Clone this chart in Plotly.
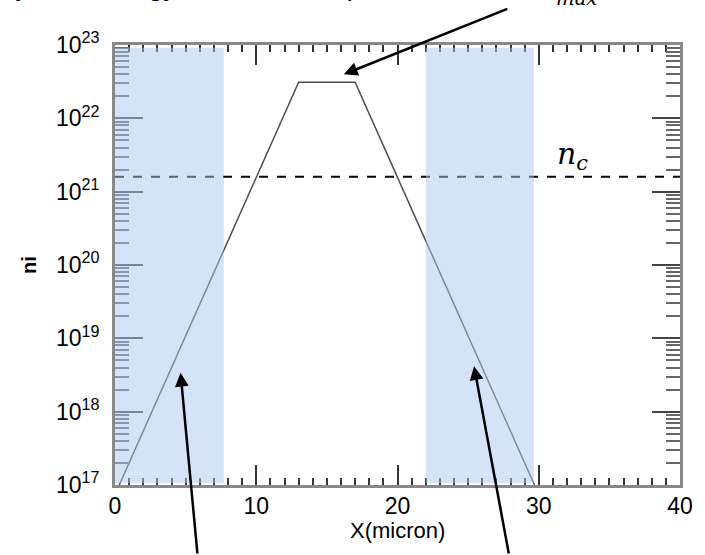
import plotly.graph_objects as go

# Ion density profile: exponential ramps up to a flat top, then down again
x_profile = [0.3, 13.0, 17.0, 29.7]
ni_profile = [1e17, 3.1e22, 3.1e22, 1e17]

# Critical density level
nc_value = 1.6e21
x_full = [0, 40]

# Shaded ramp regions (micron)
band_left = [0.0, 7.7]
band_right = [22.0, 29.65]

# Axis ticks
y_tickvals = [1e17, 1e18, 1e19, 1e20, 1e21, 1e22, 1e23]
y_ticktext = ["10<sup>17</sup>", "10<sup>18</sup>", "10<sup>19</sup>", "10<sup>20</sup>",
              "10<sup>21</sup>", "10<sup>22</sup>", "10<sup>23</sup>"]
y_minorvals = [k * 10.0 ** d for d in range(17, 23) for k in range(2, 10)]
x_tickvals = [0, 10, 20, 30, 40]
x_minorvals = [v for v in range(0, 41) if v % 10 != 0]

fig = go.Figure()

fig.add_trace(go.Scatter(
    x=x_profile, y=ni_profile, mode="lines",
    line=dict(color="#4a4a4a", width=1.5), showlegend=False, hoverinfo="skip"))

fig.add_trace(go.Scatter(
    x=x_full, y=[nc_value, nc_value], mode="lines",
    line=dict(color="black", width=2, dash="dash"), showlegend=False, hoverinfo="skip"))

for x0, x1 in (band_left, band_right):
    fig.add_shape(type="rect", xref="x", yref="paper", x0=x0, x1=x1, y0=0.004, y1=0.994,
                  fillcolor="rgba(170,200,240,0.5)", line=dict(width=0), layer="above")

axis_font = dict(family="Liberation Sans, Arial, sans-serif", size=23, color="black")

fig.update_xaxes(
    range=[0, 40], tickvals=x_tickvals, ticks="inside", ticklen=20, tickwidth=1.5,
    tickcolor="#333333", showline=True, linecolor="#888888", linewidth=3, mirror="ticks",
    showgrid=False, zeroline=False, tickfont=axis_font, ticklabelstandoff=-2,
    minor=dict(tickmode="array", tickvals=x_minorvals, ticks="inside", ticklen=7,
               tickwidth=1.5, tickcolor="#333333", showgrid=False))

fig.update_yaxes(
    type="log", range=[17, 23], tickvals=y_tickvals, ticktext=y_ticktext,
    ticks="inside", ticklen=28, tickwidth=1.5, tickcolor="#444444",
    showline=True, linecolor="#888888", linewidth=3, mirror="ticks",
    showgrid=False, zeroline=False, tickfont=axis_font, ticklabelstandoff=8,
    minor=dict(tickmode="array", tickvals=y_minorvals, ticks="inside", ticklen=14,
               tickwidth=1.5, tickcolor="#666666", showgrid=False),
    title=dict(text="<b>ni</b>", font=dict(family="Liberation Sans, Arial, sans-serif", size=20), standoff=14))

# X axis title placed just under the tick labels
fig.add_annotation(xref="paper", yref="paper", x=0.5, y=-0.103, showarrow=False,
                   text="X(micron)", xanchor="center", yanchor="middle",
                   font=dict(family="Liberation Sans, Arial, sans-serif", size=22, color="black"))

# Label for the critical density line
fig.add_annotation(x=32.4, y=21.5, xref="x", yref="y", showarrow=False,
                   text="<i>n</i><sub><i>c</i></sub>",
                   font=dict(family="DejaVu Serif, serif", size=30, color="black"))

# Arrows pointing at the flat top and at the two ramps
arrow_style = dict(showarrow=True, arrowhead=2, arrowsize=1.1, arrowwidth=2.5,
                   arrowcolor="black", text="", xref="x", yref="y", axref="pixel", ayref="pixel")
fig.add_annotation(x=16.2, y=22.6, ax=165, ay=-66, **arrow_style)
fig.add_annotation(x=4.64, y=18.53, ax=17, ay=190, **arrow_style)
fig.add_annotation(x=25.42, y=18.62, ax=35, ay=195, **arrow_style)

# Caption line above the frame
cap_font = dict(family="Liberation Sans, Arial, sans-serif", size=28, color="black")
fig.add_annotation(xref="paper", yref="paper", x=0.113, y=1.095, showarrow=False,
                   text="Density and energy", xanchor="right", yanchor="bottom", font=cap_font)
fig.add_annotation(xref="paper", yref="paper", x=0.41, y=1.095, showarrow=False,
                   text="up", xanchor="center", yanchor="bottom", font=cap_font)
fig.add_annotation(xref="paper", yref="paper", x=0.80, y=1.076, showarrow=False,
                   text="<i>n</i><sub><i>max</i></sub>", xanchor="center", yanchor="bottom",
                   font=dict(family="DejaVu Serif, serif", size=28, color="black"))

fig.update_layout(
    width=705, height=555,
    margin=dict(l=115, r=16, t=45, b=70),
    paper_bgcolor="white", plot_bgcolor="white",
    font=dict(family="Liberation Sans, Arial, sans-serif", color="black"))

fig.write_html("out.html")
